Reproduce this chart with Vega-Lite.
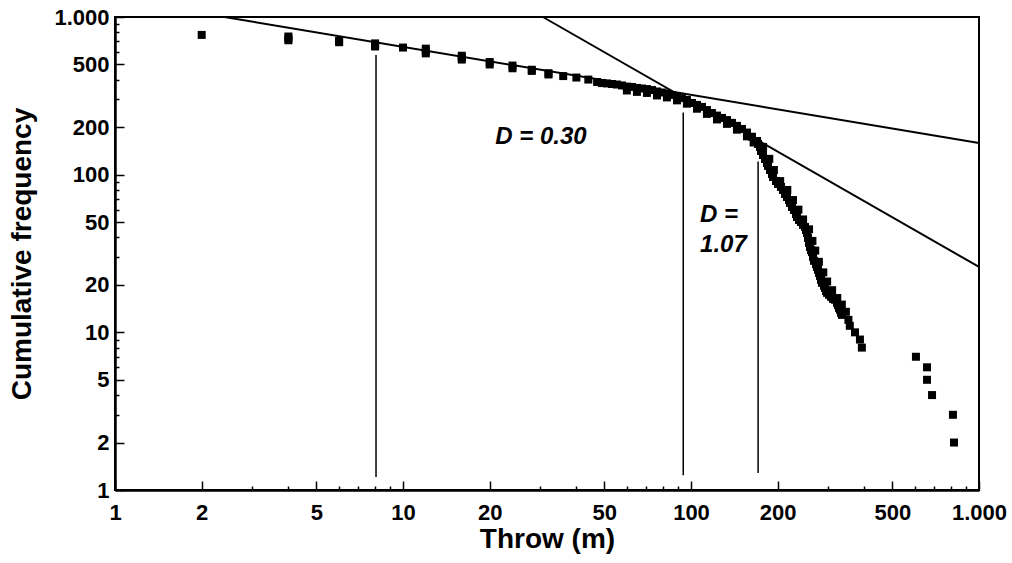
{
  "$schema": "https://vega.github.io/schema/vega-lite/v6.json",
  "width": 864,
  "height": 473,
  "autosize": {"type": "none"},
  "padding": {"left": 115, "top": 17, "right": 33, "bottom": 73},
  "background": "white",
  "config": {
    "view": {"stroke": "black", "strokeWidth": 2},
    "font": "Liberation Sans"
  },
  "datasets": {
    "points": [
      {"throw": 2, "freq": 770},
      {"throw": 4, "freq": 752}, {"throw": 4, "freq": 731}, {"throw": 4, "freq": 712},
      {"throw": 6, "freq": 705}, {"throw": 6, "freq": 692},
      {"throw": 8, "freq": 680}, {"throw": 8, "freq": 665}, {"throw": 8, "freq": 650},
      {"throw": 10, "freq": 640},
      {"throw": 12, "freq": 630}, {"throw": 12, "freq": 610}, {"throw": 12, "freq": 588},
      {"throw": 16, "freq": 568}, {"throw": 16, "freq": 552}, {"throw": 16, "freq": 537},
      {"throw": 20, "freq": 518}, {"throw": 20, "freq": 500},
      {"throw": 24, "freq": 492}, {"throw": 24, "freq": 473},
      {"throw": 28, "freq": 463}, {"throw": 28, "freq": 455},
      {"throw": 32, "freq": 440}, {"throw": 32, "freq": 432},
      {"throw": 36, "freq": 422},
      {"throw": 40, "freq": 413},
      {"throw": 44, "freq": 401},
      {"throw": 47.2, "freq": 387}, {"throw": 49.1, "freq": 381}, {"throw": 51.1, "freq": 379},
      {"throw": 53.2, "freq": 376}, {"throw": 55.3, "freq": 373}, {"throw": 57.6, "freq": 368},
      {"throw": 59.9, "freq": 362}, {"throw": 62.4, "freq": 360}, {"throw": 64.9, "freq": 355},
      {"throw": 67.6, "freq": 352}, {"throw": 70.3, "freq": 349}, {"throw": 73.2, "freq": 344},
      {"throw": 76.2, "freq": 337}, {"throw": 79.3, "freq": 332}, {"throw": 82.5, "freq": 327},
      {"throw": 85.9, "freq": 320}, {"throw": 89.4, "freq": 313}, {"throw": 93, "freq": 306},
      {"throw": 96.8, "freq": 298}, {"throw": 100.8, "freq": 285}, {"throw": 104.9, "freq": 277},
      {"throw": 109.2, "freq": 269}, {"throw": 113.6, "freq": 257}, {"throw": 118.2, "freq": 246},
      {"throw": 123.1, "freq": 237}, {"throw": 128.1, "freq": 229}, {"throw": 133.3, "freq": 222},
      {"throw": 138.8, "freq": 213}, {"throw": 144.4, "freq": 204}, {"throw": 150.3, "freq": 195},
      {"throw": 156.4, "freq": 185}, {"throw": 162.8, "freq": 174},
      {"throw": 59.9, "freq": 342}, {"throw": 64.9, "freq": 335}, {"throw": 70.3, "freq": 330},
      {"throw": 76.2, "freq": 318}, {"throw": 82.5, "freq": 309}, {"throw": 89.4, "freq": 296},
      {"throw": 96.8, "freq": 282}, {"throw": 104.9, "freq": 262}, {"throw": 113.6, "freq": 243},
      {"throw": 123.1, "freq": 224}, {"throw": 133.3, "freq": 210}, {"throw": 144.4, "freq": 193},
      {"throw": 156.4, "freq": 175}, {"throw": 165, "freq": 160},
      {"throw": 169.5, "freq": 163.6}, {"throw": 170.9, "freq": 156.6}, {"throw": 173.6, "freq": 149.9},
      {"throw": 175.0, "freq": 141.4}, {"throw": 177.8, "freq": 133.3}, {"throw": 180.7, "freq": 125.8},
      {"throw": 183.6, "freq": 118.6}, {"throw": 185.1, "freq": 113.6}, {"throw": 188.1, "freq": 107.1},
      {"throw": 191.1, "freq": 101.0}, {"throw": 192.7, "freq": 96.7}, {"throw": 197.3, "freq": 91.2},
      {"throw": 200.5, "freq": 87.3}, {"throw": 205.4, "freq": 83.6}, {"throw": 208.7, "freq": 80.0},
      {"throw": 212.1, "freq": 75.4}, {"throw": 215.4, "freq": 72.2}, {"throw": 218.9, "freq": 69.1},
      {"throw": 220.7, "freq": 66.2}, {"throw": 224.2, "freq": 62.4}, {"throw": 227.9, "freq": 59.7},
      {"throw": 231.5, "freq": 56.3}, {"throw": 233.4, "freq": 53.9}, {"throw": 237.1, "freq": 51.6},
      {"throw": 241.0, "freq": 50.1}, {"throw": 244.9, "freq": 48.0}, {"throw": 248.8, "freq": 46.6},
      {"throw": 250.8, "freq": 44.6}, {"throw": 252.8, "freq": 42.7}, {"throw": 254.8, "freq": 39.7},
      {"throw": 256.9, "freq": 36.9}, {"throw": 258.9, "freq": 34.8}, {"throw": 261.0, "freq": 33.3},
      {"throw": 263.1, "freq": 32.3}, {"throw": 265.2, "freq": 30.1}, {"throw": 267.4, "freq": 28.4},
      {"throw": 271.7, "freq": 27.1}, {"throw": 273.8, "freq": 26.0}, {"throw": 276.0, "freq": 24.9},
      {"throw": 278.3, "freq": 23.8}, {"throw": 280.5, "freq": 22.8}, {"throw": 282.7, "freq": 21.5},
      {"throw": 285.0, "freq": 20.6}, {"throw": 289.6, "freq": 19.7}, {"throw": 292.0, "freq": 19.1},
      {"throw": 294.3, "freq": 18.3}, {"throw": 296.7, "freq": 17.8}, {"throw": 301.4, "freq": 17.3},
      {"throw": 306.3, "freq": 16.8}, {"throw": 311.2, "freq": 16.3}, {"throw": 316.2, "freq": 16.1},
      {"throw": 321.3, "freq": 15.4}, {"throw": 323.9, "freq": 14.9}, {"throw": 326.5, "freq": 14.3},
      {"throw": 329.1, "freq": 13.9}, {"throw": 331.8, "freq": 13.3}, {"throw": 334.4, "freq": 12.9},
      {"throw": 178, "freq": 150}, {"throw": 187, "freq": 126}, {"throw": 194, "freq": 107},
      {"throw": 204, "freq": 91}, {"throw": 216, "freq": 80}, {"throw": 226, "freq": 69},
      {"throw": 236, "freq": 60}, {"throw": 245, "freq": 52}, {"throw": 257, "freq": 45},
      {"throw": 264, "freq": 38}, {"throw": 270, "freq": 33}, {"throw": 278, "freq": 28},
      {"throw": 288, "freq": 24}, {"throw": 297, "freq": 21}, {"throw": 309, "freq": 18.5},
      {"throw": 322, "freq": 16.5}, {"throw": 334, "freq": 15}, {"throw": 345, "freq": 13.5},
      {"throw": 352, "freq": 12}, {"throw": 356, "freq": 11}, {"throw": 371, "freq": 10},
      {"throw": 386, "freq": 9}, {"throw": 392, "freq": 8}, {"throw": 604, "freq": 7},
      {"throw": 660, "freq": 6}, {"throw": 660, "freq": 5}, {"throw": 687, "freq": 4},
      {"throw": 812, "freq": 3}, {"throw": 819, "freq": 2}
    ],
    "fits": [
      {"fit": "D030", "throw": 2.4, "freq": 1000},
      {"fit": "D030", "throw": 1000, "freq": 159},
      {"fit": "D107", "throw": 30.6, "freq": 1000},
      {"fit": "D107", "throw": 1000, "freq": 26}
    ],
    "bounds": [
      {"throw": 8.06, "low": 1.21, "high": 574},
      {"throw": 94, "low": 1.24, "high": 248},
      {"throw": 171, "low": 1.28, "high": 121}
    ],
    "labels": [
      {"throw": 20.9, "freq": 173, "label": "D = 0.30"},
      {"throw": 107.5, "freq": 55.5, "label": "D ="},
      {"throw": 107.5, "freq": 35.8, "label": "1.07"}
    ]
  },
  "layer": [
    {
      "data": {"name": "fits"},
      "mark": {"type": "line", "color": "black", "strokeWidth": 2},
      "encoding": {
        "x": {
          "field": "throw", "type": "quantitative",
          "scale": {"type": "log", "domain": [1, 1000], "nice": false},
          "axis": {
            "values": [1,2,3,4,5,6,7,8,9,10,20,30,40,50,60,70,80,90,100,200,300,400,500,600,700,800,900,1000],
            "labelExpr": "indexof([1,2,5,10,20,50,100,200,500,1000], datum.value) >= 0 ? (datum.value == 1000 ? '1.000' : '' + datum.value) : ''",
            "tickSize": {"condition": {"test": "indexof([1,2,5,10,20,50,100,200,500,1000], datum.value) >= 0", "value": -9}, "value": -4},
            "tickColor": "black", "tickWidth": 1.5,
            "domainColor": "black", "domainWidth": 2.5,
            "labelFont": "Liberation Sans", "labelFontWeight": "bold", "labelFontSize": 22, "labelColor": "black",
            "labelPadding": 21, "labelOverlap": false, "labelFlush": false,
            "grid": false,
            "title": "Throw (m)", "titleFont": "Liberation Sans", "titleFontSize": 28, "titleFontWeight": "bold",
            "titleColor": "black", "titlePadding": -3
          }
        },
        "y": {
          "field": "freq", "type": "quantitative",
          "scale": {"type": "log", "domain": [1, 1000], "nice": false},
          "axis": {
            "values": [1,2,3,4,5,6,7,8,9,10,20,30,40,50,60,70,80,90,100,200,300,400,500,600,700,800,900,1000],
            "labelExpr": "indexof([1,2,5,10,20,50,100,200,500,1000], datum.value) >= 0 ? (datum.value == 1000 ? '1.000' : '' + datum.value) : ''",
            "tickSize": {"condition": {"test": "indexof([1,2,5,10,20,50,100,200,500,1000], datum.value) >= 0", "value": -9}, "value": -4},
            "tickColor": "black", "tickWidth": 1.5,
            "domainColor": "black", "domainWidth": 2.5,
            "labelFont": "Liberation Sans", "labelFontWeight": "bold", "labelFontSize": 22, "labelColor": "black",
            "labelPadding": 15, "labelOverlap": false, "labelFlush": false,
            "grid": false,
            "title": "Cumulative frequency", "titleFont": "Liberation Sans", "titleFontSize": 28, "titleFontWeight": "bold",
            "titleColor": "black", "titlePadding": 17
          }
        },
        "detail": {"field": "fit", "type": "nominal"}
      }
    },
    {
      "data": {"name": "bounds"},
      "mark": {"type": "rule", "color": "black", "strokeWidth": 1.5},
      "encoding": {
        "x": {"field": "throw", "type": "quantitative", "scale": {"type": "log", "domain": [1, 1000], "nice": false}},
        "y": {"field": "low", "type": "quantitative", "scale": {"type": "log", "domain": [1, 1000], "nice": false}},
        "y2": {"field": "high"}
      }
    },
    {
      "data": {"name": "points"},
      "mark": {"type": "square", "filled": true, "color": "black", "opacity": 1, "size": 64},
      "encoding": {
        "x": {"field": "throw", "type": "quantitative", "scale": {"type": "log", "domain": [1, 1000], "nice": false}},
        "y": {"field": "freq", "type": "quantitative", "scale": {"type": "log", "domain": [1, 1000], "nice": false}}
      }
    },
    {
      "data": {"name": "labels"},
      "mark": {"type": "text", "font": "Liberation Sans", "fontStyle": "italic", "fontWeight": "bold", "fontSize": 24, "align": "left", "baseline": "middle", "color": "black"},
      "encoding": {
        "x": {"field": "throw", "type": "quantitative", "scale": {"type": "log", "domain": [1, 1000], "nice": false}},
        "y": {"field": "freq", "type": "quantitative", "scale": {"type": "log", "domain": [1, 1000], "nice": false}},
        "text": {"field": "label", "type": "nominal"}
      }
    }
  ]
}
